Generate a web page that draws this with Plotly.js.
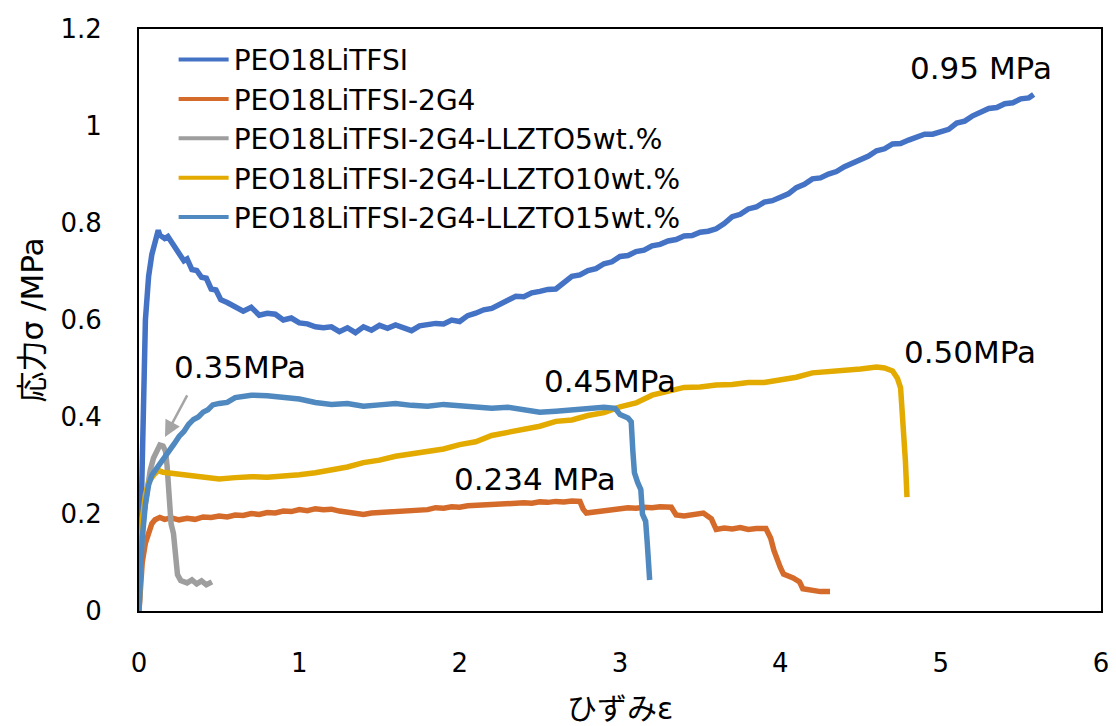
<!DOCTYPE html>
<html>
<head>
<meta charset="utf-8">
<script src="https://cdn.plot.ly/plotly-3.0.1.min.js"></script>
<style>html,body{margin:0;padding:0;background:#fff;}#chart{width:1116px;height:726px;}</style>
</head>
<body>
<div id="chart"></div>
<script>
// Series names
const seriesNames = ["PEO18LiTFSI", "PEO18LiTFSI-2G4", "PEO18LiTFSI-2G4-LLZTO5wt.%", "PEO18LiTFSI-2G4-LLZTO10wt.%", "PEO18LiTFSI-2G4-LLZTO15wt.%"];
const seriesColors = ["#4472C4", "#D56B2A", "#9E9E9E", "#E3AA00", "#4F89BF"];

// PEO18LiTFSI
const xPEO = [0,0.01,0.02,0.03,0.04,0.06,0.08,0.10,0.12,0.13,0.14,0.16,0.18,0.20,0.22,0.25,0.28,0.30,0.33,0.36,0.39,0.42,0.45,0.48,0.51,0.55,0.60,0.65,0.70,0.75,0.80,0.85,0.90,0.95,1.00,1.05,1.10,1.15,1.20,1.25,1.30,1.35,1.40,1.45,1.50,1.55,1.60,1.65,1.70,1.75,1.80,1.85,1.90,1.95,2.00,2.05,2.10,2.15,2.20,2.25,2.30,2.35,2.40,2.45,2.50,2.55,2.60,2.65,2.70,2.75,2.80,2.85,2.90,2.95,3.00,3.05,3.10,3.15,3.20,3.25,3.30,3.35,3.40,3.45,3.50,3.55,3.60,3.65,3.70,3.75,3.80,3.85,3.90,3.95,4.00,4.05,4.10,4.15,4.20,4.25,4.30,4.35,4.40,4.45,4.50,4.55,4.60,4.65,4.70,4.75,4.80,4.85,4.90,4.95,5.00,5.05,5.10,5.15,5.20,5.25,5.30,5.35,5.40,5.45,5.50,5.55,5.58];
const yPEO = [0,0.18,0.38,0.52,0.60,0.69,0.735,0.76,0.785,0.775,0.772,0.768,0.772,0.762,0.752,0.742,0.722,0.726,0.704,0.702,0.688,0.686,0.664,0.662,0.642,0.636,0.626,0.618,0.626,0.610,0.614,0.612,0.600,0.604,0.594,0.592,0.586,0.584,0.586,0.576,0.584,0.574,0.586,0.579,0.589,0.583,0.590,0.585,0.578,0.588,0.590,0.593,0.592,0.600,0.597,0.609,0.614,0.621,0.624,0.633,0.639,0.649,0.648,0.656,0.659,0.663,0.664,0.676,0.690,0.693,0.702,0.706,0.716,0.720,0.731,0.733,0.741,0.744,0.753,0.756,0.763,0.766,0.773,0.774,0.781,0.783,0.788,0.799,0.813,0.818,0.829,0.833,0.843,0.846,0.854,0.860,0.873,0.880,0.891,0.893,0.901,0.906,0.916,0.923,0.933,0.938,0.949,0.953,0.963,0.964,0.971,0.976,0.983,0.983,0.989,0.993,1.006,1.010,1.021,1.028,1.036,1.038,1.046,1.048,1.056,1.058,1.065];

// PEO18LiTFSI-2G4
const x2G4 = [0,0.01,0.02,0.04,0.06,0.08,0.10,0.13,0.16,0.20,0.25,0.30,0.35,0.40,0.45,0.50,0.55,0.60,0.65,0.70,0.75,0.80,0.85,0.90,0.95,1.00,1.05,1.10,1.15,1.20,1.25,1.30,1.35,1.40,1.45,1.50,1.55,1.60,1.65,1.70,1.75,1.80,1.85,1.90,1.95,2.00,2.05,2.10,2.15,2.20,2.25,2.30,2.35,2.40,2.45,2.50,2.55,2.60,2.65,2.70,2.75,2.77,2.79,2.85,2.90,2.95,3.00,3.05,3.10,3.15,3.20,3.25,3.32,3.35,3.40,3.45,3.52,3.57,3.60,3.65,3.70,3.75,3.80,3.85,3.91,3.94,3.96,4.00,4.02,4.08,4.12,4.14,4.20,4.25,4.31];
const y2G4 = [0,0.06,0.10,0.14,0.165,0.18,0.188,0.193,0.189,0.192,0.188,0.191,0.189,0.194,0.193,0.196,0.194,0.198,0.197,0.201,0.199,0.203,0.202,0.206,0.205,0.209,0.207,0.211,0.209,0.210,0.206,0.204,0.201,0.199,0.202,0.203,0.206,0.205,0.208,0.207,0.210,0.209,0.213,0.212,0.215,0.214,0.217,0.218,0.219,0.221,0.220,0.223,0.222,0.223,0.222,0.225,0.224,0.226,0.225,0.227,0.226,0.210,0.202,0.205,0.208,0.210,0.211,0.213,0.212,0.214,0.213,0.215,0.214,0.198,0.196,0.199,0.202,0.190,0.168,0.171,0.169,0.172,0.168,0.170,0.170,0.150,0.125,0.090,0.076,0.068,0.060,0.046,0.043,0.040,0.040];

// PEO18LiTFSI-2G4-LLZTO5wt.%
const xL5 = [0,0.01,0.03,0.05,0.07,0.09,0.11,0.13,0.15,0.165,0.175,0.185,0.19,0.20,0.215,0.225,0.235,0.24,0.26,0.30,0.33,0.36,0.39,0.42,0.455];
const yL5 = [0,0.10,0.20,0.25,0.29,0.315,0.332,0.342,0.340,0.330,0.300,0.250,0.210,0.180,0.160,0.130,0.100,0.075,0.063,0.058,0.064,0.056,0.062,0.054,0.060];

// PEO18LiTFSI-2G4-LLZTO10wt.%
const xL10 = [0,0.01,0.02,0.04,0.06,0.09,0.12,0.15,0.20,0.25,0.30,0.40,0.50,0.60,0.70,0.80,0.90,1.00,1.10,1.20,1.30,1.40,1.50,1.60,1.70,1.80,1.90,2.00,2.10,2.20,2.30,2.40,2.50,2.60,2.70,2.80,2.90,3.00,3.10,3.20,3.30,3.40,3.50,3.60,3.70,3.80,3.90,4.00,4.10,4.20,4.30,4.40,4.50,4.60,4.65,4.70,4.73,4.75,4.76,4.77,4.78,4.79];
const yL10 = [0,0.12,0.19,0.24,0.265,0.28,0.29,0.286,0.284,0.281,0.278,0.274,0.272,0.275,0.277,0.276,0.278,0.281,0.285,0.290,0.297,0.306,0.311,0.319,0.324,0.331,0.334,0.343,0.349,0.362,0.369,0.376,0.381,0.391,0.394,0.403,0.409,0.421,0.429,0.445,0.454,0.461,0.462,0.466,0.467,0.471,0.471,0.477,0.482,0.491,0.493,0.495,0.499,0.503,0.501,0.495,0.480,0.460,0.420,0.380,0.310,0.235];

// PEO18LiTFSI-2G4-LLZTO15wt.%
const xL15 = [0,0.01,0.02,0.04,0.06,0.08,0.10,0.13,0.16,0.19,0.22,0.25,0.28,0.31,0.34,0.37,0.40,0.43,0.46,0.50,0.55,0.60,0.65,0.70,0.80,0.90,1.00,1.10,1.20,1.30,1.40,1.50,1.60,1.70,1.80,1.90,2.00,2.10,2.20,2.30,2.40,2.50,2.60,2.70,2.80,2.90,2.97,3.00,3.05,3.07,3.08,3.09,3.11,3.13,3.14,3.16,3.17,3.18,3.185];
const yL15 = [0,0.08,0.15,0.22,0.26,0.28,0.29,0.305,0.315,0.33,0.345,0.36,0.37,0.385,0.395,0.40,0.41,0.415,0.425,0.428,0.43,0.44,0.442,0.445,0.444,0.440,0.437,0.430,0.426,0.428,0.422,0.425,0.428,0.424,0.422,0.426,0.424,0.420,0.418,0.420,0.415,0.410,0.412,0.415,0.418,0.420,0.418,0.405,0.398,0.390,0.330,0.285,0.265,0.250,0.200,0.185,0.140,0.100,0.064];

const xs = [xPEO, x2G4, xL5, xL10, xL15];
const ys = [yPEO, y2G4, yL5, yL10, yL15];

// Value labels
const labelTexts = ["0.95 MPa", "0.35MPa", "0.45MPa", "0.50MPa", "0.234 MPa"];
const labelX = [5.25, 0.63, 2.94, 5.18, 2.47];
const labelY = [1.12, 0.503, 0.474, 0.534, 0.272];

const font = "DejaVu Sans, Noto Sans CJK JP, sans-serif";

// data traces (thick, noisy look) without legend entries
const traces = seriesNames.map((n, i) => ({
  x: xs[i], y: ys[i], name: n, type: 'scatter', mode: 'lines', showlegend: false,
  line: {color: seriesColors[i], width: 5.5}
}));
// legend entries with thinner sample lines
seriesNames.forEach((n, i) => traces.push({
  x: [null], y: [null], name: n, type: 'scatter', mode: 'lines', showlegend: true,
  line: {color: seriesColors[i], width: 4}
}));

const annotations = labelTexts.map((t, i) => ({
  x: labelX[i], y: labelY[i], xref: 'x', yref: 'y', text: t, showarrow: false,
  font: {family: font, size: 31, color: '#000'}
}));
annotations.push({
  x: 0.162, y: 0.359, xref: 'x', yref: 'y', ax: 23, ay: -43, text: '',
  showarrow: true, arrowhead: 2, arrowsize: 1.3, arrowwidth: 2.5, arrowcolor: '#A5A5A5'
});

const layout = {
  width: 1116, height: 726,
  margin: {l: 139, r: 15, t: 29, b: 115},
  paper_bgcolor: '#fff', plot_bgcolor: '#fff',
  font: {family: font, size: 26, color: '#000'},
  showlegend: true,
  legend: {x: 0.036, y: 0.99, xanchor: 'left', yanchor: 'top', bgcolor: 'rgba(0,0,0,0)',
           font: {family: font, size: 28, color: '#000'}, itemwidth: 50, tracegroupgap: 0},
  xaxis: {range: [0, 6], dtick: 1, tick0: 0, showgrid: false, zeroline: false,
          showline: true, mirror: true, linecolor: '#000', linewidth: 2, ticks: '',
          ticklabelstandoff: 28,
          title: {text: 'ひずみε', font: {family: font, size: 30}, standoff: 36}},
  yaxis: {range: [0, 1.2], dtick: 0.2, tick0: 0, showgrid: false, zeroline: false,
          showline: true, mirror: true, linecolor: '#000', linewidth: 2, ticks: '',
          ticklabelstandoff: 30,
          title: {text: '応力σ /MPa', font: {family: font, size: 31}, standoff: 8}},
  annotations: annotations
};

Plotly.newPlot('chart', traces, layout, {displayModeBar: false, staticPlot: true});
</script>
</body>
</html>
